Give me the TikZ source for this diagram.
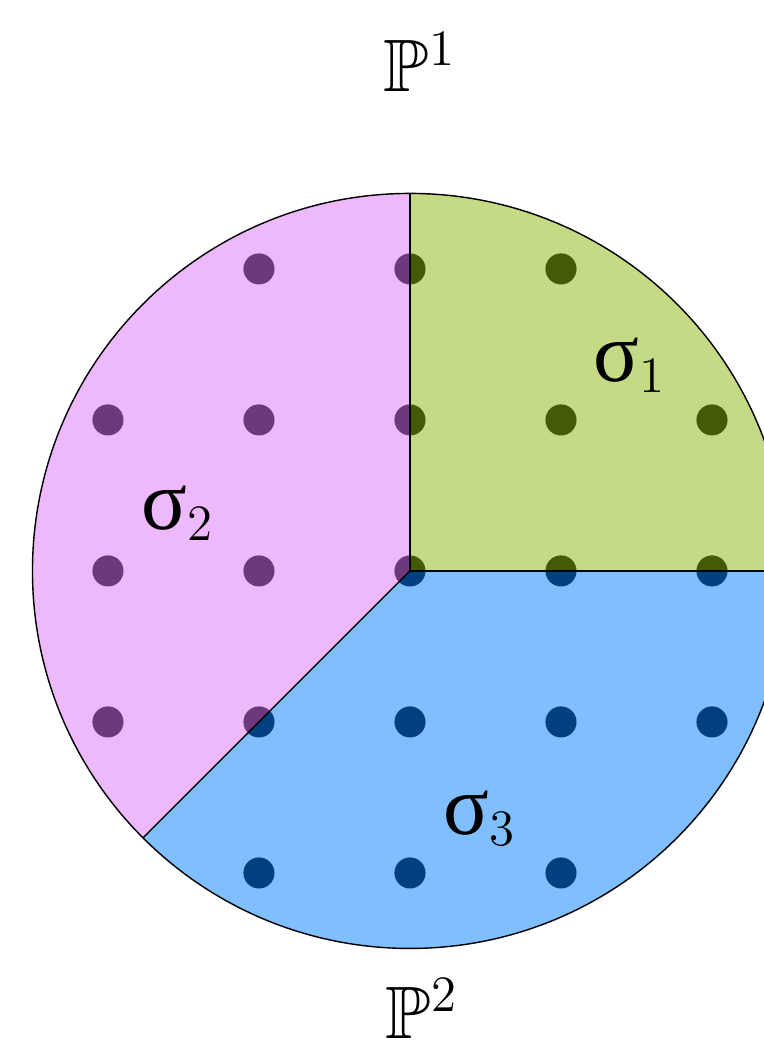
\documentclass[tikz,border=0pt]{standalone}
\usepackage{amssymb}
\usepackage{fontspec}
\newfontfamily\greekfont{Liberation Serif}
\definecolor{conegreen}{RGB}{138,181,10}
\definecolor{conepink}{RGB}{220,113,249}
\definecolor{coneblue}{RGB}{0,127,255}
\newcommand{\conelabel}[1]{{\greekfont\fontsize{24}{28}\selectfont σ}$_{#1}$}

\begin{document}
\begin{tikzpicture}[x=1.5cm,y=1.5cm,
  cone/.style={fill opacity=0.5},
  lbl/.style={anchor=base west,inner sep=0pt,font=\fontsize{21}{25}\selectfont}]
  \useasboundingbox (-2.715,-3.146) rectangle (2.344,3.781);
  \clip (-2.715,-3.146) rectangle (2.344,3.781);

  % lattice points inside the disc
  \foreach \i in {-2,...,2}
    \foreach \j in {-2,...,2} {
      \pgfmathtruncatemacro{\rr}{\i*\i+\j*\j}
      \ifnum\rr<7 \fill (\i,\j) circle (0.103); \fi
    }

  % the three cones
  \fill[cone,conegreen] (0,0) -- (0:2.5) arc (0:90:2.5) -- cycle;
  \fill[cone,conepink] (0,0) -- (90:2.5) arc (90:225:2.5) -- cycle;
  \fill[cone,coneblue] (0,0) -- (225:2.5) arc (225:360:2.5) -- cycle;

  \draw (0,0) circle (2.5);
  \draw (90:2.5) -- (0,0) -- (0:2.5);
  \draw (0,0) -- (225:2.5);

  \node[lbl] (s1) at (1.212,1.252) {\conelabel{1}};
  \node[lbl] (s2) at (-1.781,0.272) {\conelabel{2}};
  \node[lbl] (s3) at (0.219,-1.748) {\conelabel{3}};

  \node[lbl] (p1) at (-0.179,3.172) {$\mathbb{P}^1$};
  \node[lbl] (p2) at (-0.166,-3.093) {$\mathbb{P}^2$};
\end{tikzpicture}
\end{document}
